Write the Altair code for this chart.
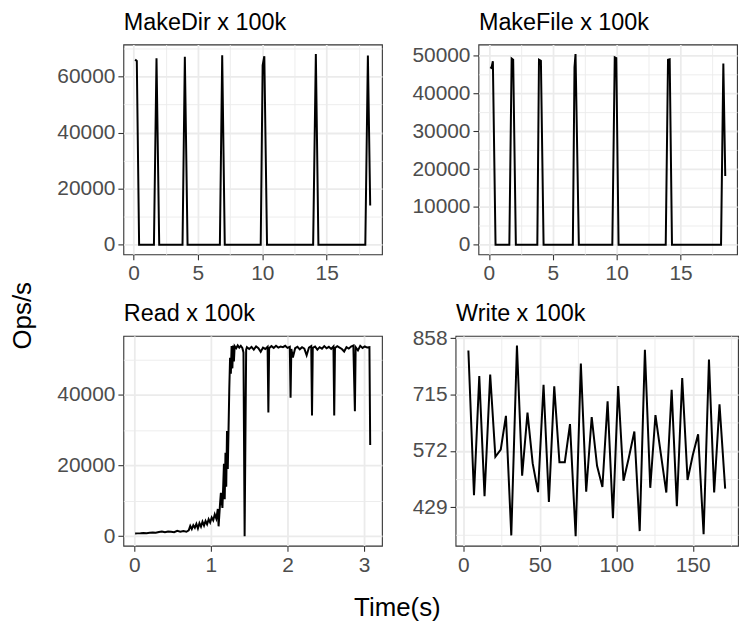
import altair as alt
import pandas as pd

FONT = "Liberation Sans"

# ---------------- data ----------------
mkdir_t = [0.13, 0.26, 0.44, 1.59, 1.79, 2.0, 3.81, 3.99, 4.2, 6.71, 6.89, 7.09,
           9.88, 10.03, 10.16, 10.37, 13.95, 14.16, 14.36, 18.0, 18.2, 18.38]
mkdir_v = [66000, 65500, 0, 0, 66500, 0, 0, 67000, 0, 0, 67600, 0,
           0, 64000, 67200, 0, 0, 68000, 0, 0, 67500, 14000]

mkfile_t = [0.1, 0.2, 0.31, 0.52, 1.6, 1.78, 1.9, 2.11, 3.79, 3.92, 4.07, 4.28,
            6.57, 6.7, 6.78, 7.04, 9.66, 9.85, 9.97, 10.15, 13.84, 14.02, 14.15,
            14.33, 18.17, 18.35, 18.5]
mkfile_v = [47000, 46800, 48600, 0, 0, 49300, 49000, 0, 0, 49000, 48700, 0,
            0, 47000, 50500, 0, 0, 49600, 49400, 0, 0, 49000, 49100,
            0, 0, 48000, 18200]

read_t = [0.01, 0.04, 0.08, 0.12, 0.16, 0.20, 0.24, 0.28, 0.32, 0.36, 0.40, 0.44,
          0.48, 0.52, 0.56, 0.60, 0.64, 0.68, 0.71, 0.73, 0.75, 0.77, 0.79, 0.81,
          0.83, 0.85, 0.87, 0.89, 0.91, 0.93, 0.95, 0.97, 0.99, 1.01, 1.03, 1.05,
          1.07, 1.09, 1.10, 1.12, 1.13, 1.15, 1.16, 1.17, 1.18, 1.19, 1.20, 1.21,
          1.22, 1.23, 1.24, 1.25, 1.26, 1.27, 1.28, 1.29, 1.30, 1.31, 1.33, 1.35,
          1.37, 1.39, 1.41, 1.425, 1.44, 1.46,
          1.47, 1.50, 1.53, 1.56, 1.59, 1.62, 1.65, 1.68, 1.71, 1.74, 1.75, 1.76,
          1.79, 1.82, 1.85, 1.88, 1.91, 1.94, 1.97, 2.00, 2.03, 2.04, 2.05, 2.07,
          2.10, 2.13, 2.16, 2.19, 2.22, 2.25, 2.28, 2.31, 2.32, 2.33, 2.36, 2.39,
          2.42, 2.45, 2.48, 2.51, 2.54, 2.57, 2.60, 2.61, 2.62, 2.65, 2.68, 2.71,
          2.74, 2.77, 2.80, 2.83, 2.86, 2.88, 2.89, 2.92, 2.95, 2.98, 3.01, 3.04,
          3.07, 3.08]
read_v = [770, 800, 820, 900, 870, 980, 1050, 1000, 1200, 1350, 1150, 1300,
          1250, 1150, 1500, 1300, 1450, 1250, 1650, 2900, 2000, 3100, 2400, 3500,
          2200, 3700, 2700, 4100, 3000, 4300, 3400, 4800, 3900, 5300, 4500, 6200,
          5000, 7700, 2800, 9500, 12300, 8000, 14000, 20500, 10500, 23600, 14000, 29800,
          19000, 30200, 42000, 50500, 46000, 53800, 47500, 54000, 49500, 53800, 53200, 54000,
          53400, 53900, 53300, 52000, 0, 52800,
          53500, 53000, 53600, 52800, 53700, 53200, 52200, 53400, 53000, 53600, 35000, 53200,
          53800, 53300, 53900, 53400, 53700, 53500, 53900, 53300, 53600, 39200, 53000, 50600,
          53200, 53600, 52900, 53500, 53100, 51200, 53400, 53800, 34200, 53300, 53700, 52800,
          53500, 53100, 53800, 53200, 53600, 53000, 53700, 34200, 53300, 53800, 53400, 53000,
          52300, 53500, 53100, 53700, 54000, 35400, 53500, 52600, 53900, 53300, 53700, 53400,
          53500, 25800]

write_t = [3.24, 6.9, 10.36, 13.8, 17.5, 20.9, 24.4, 27.8, 31.3, 35.0, 38.4, 41.9,
           45.3, 48.8, 52.4, 55.9, 59.4, 62.8, 66.3, 69.7, 73.4, 76.8, 80.3, 83.9,
           87.4, 90.9, 94.3, 97.8, 101.2, 104.7, 108.1, 111.8, 115.3, 118.7, 122.2,
           125.6, 129.1, 132.7, 136.2, 139.6, 143.1, 146.6, 150.0, 153.5, 157.1,
           160.6, 164.0, 167.5, 171.2]
write_v = [827, 459, 762, 457, 766, 557, 575, 661, 357, 840, 509, 669,
           540, 467, 740, 442, 736, 543, 543, 640, 355, 794, 468, 658,
           534, 480, 698, 401, 737, 496, 553, 621, 368, 829, 478,
           663, 565, 466, 727, 431, 757, 498, 561, 614, 360,
           804, 466, 690, 476]

titles = ["MakeDir x 100k", "MakeFile x 100k", "Read x 100k", "Write x 100k"]


def make_axis(major, minor, dom, title=None):
    vals = sorted(x for x in major + minor if dom[0] <= x <= dom[1])
    test = "indexof([%s], datum.value) >= 0" % ",".join(repr(m) for m in major)
    kw = dict(
        values=vals, format="d",
        labelExpr="(%s) ? datum.label : ''" % test,
        gridWidth={"condition": {"test": test, "value": 1.8}, "value": 0.9},
        tickOpacity={"condition": {"test": test, "value": 1}, "value": 0},
        labelOverlap=False, labelFlush=False,
    )
    if title is None:
        kw["title"] = None
    else:
        kw.update(title=title, titleAngle=0, titleAlign="left",
                  titleBaseline="alphabetic", titleX=0, titleY=-15,
                  titleFontSize=23.5, titleColor="black", titleFont=FONT,
                  titleFontWeight="normal")
    return alt.Axis(**kw)


def panel(t, v, title, xmajor, xminor, ymajor, yminor, width, height=211):
    df = pd.DataFrame({"t": t, "v": v, "i": list(range(len(t)))})
    xr = max(t) - min(t)
    yr = max(v) - min(v)
    xdom = [min(t) - 0.05 * xr, max(t) + 0.05 * xr]
    ydom = [min(v) - 0.05 * yr, max(v) + 0.05 * yr]
    return alt.Chart(df).mark_line(color="black", strokeWidth=2).encode(
        x=alt.X("t:Q", scale=alt.Scale(domain=xdom, nice=False, zero=False),
                axis=make_axis(xmajor, xminor, xdom)),
        y=alt.Y("v:Q", scale=alt.Scale(domain=ydom, nice=False, zero=False),
                axis=make_axis(ymajor, yminor, ydom, title)),
        order="i:Q",
    ).properties(width=width, height=height)


p1 = panel(mkdir_t, mkdir_v, titles[0], [0, 5, 10, 15], [2.5, 7.5, 12.5, 17.5],
           [0, 20000, 40000, 60000], [10000, 30000, 50000, 70000], 260)
p2 = panel(mkfile_t, mkfile_v, titles[1], [0, 5, 10, 15], [2.5, 7.5, 12.5, 17.5],
           [0, 10000, 20000, 30000, 40000, 50000],
           [5000, 15000, 25000, 35000, 45000], 260)
p3 = panel(read_t, read_v, titles[2], [0, 1, 2, 3], [0.5, 1.5, 2.5],
           [0, 20000, 40000], [10000, 30000, 50000], 260)
p4 = panel(write_t, write_v, titles[3], [0, 50, 100, 150], [25, 75, 125, 175],
           [429, 572, 715, 858], [357.5, 500.5, 643.5, 786.5], 284)

row1 = alt.hconcat(p1, p2, spacing=28)
row2 = alt.hconcat(p3, p4, spacing=28)
inner = alt.vconcat(row1, row2, spacing=16).properties(
    title=alt.TitleParams("Time(s)", orient="bottom", anchor="middle", fontSize=26,
                          offset=20, color="black", font=FONT, fontWeight="normal")
)
chart = alt.vconcat(inner).properties(
    title=alt.TitleParams("Ops/s", orient="left", anchor="middle", fontSize=26,
                          offset=20, color="black", font=FONT, fontWeight="normal"),
    padding={"left": 2, "top": 0, "right": 0, "bottom": 0},
).configure_view(
    stroke="#333333", strokeWidth=1.1
).configure_axis(
    domain=False, tickColor="#333333", tickSize=5.5, tickWidth=1.1,
    labelColor="#4D4D4D", labelFontSize=21, labelFont=FONT, labelPadding=3,
    gridColor="#EBEBEB",
)

chart.save("out.html", embed_options={"renderer": "svg", "actions": False})
